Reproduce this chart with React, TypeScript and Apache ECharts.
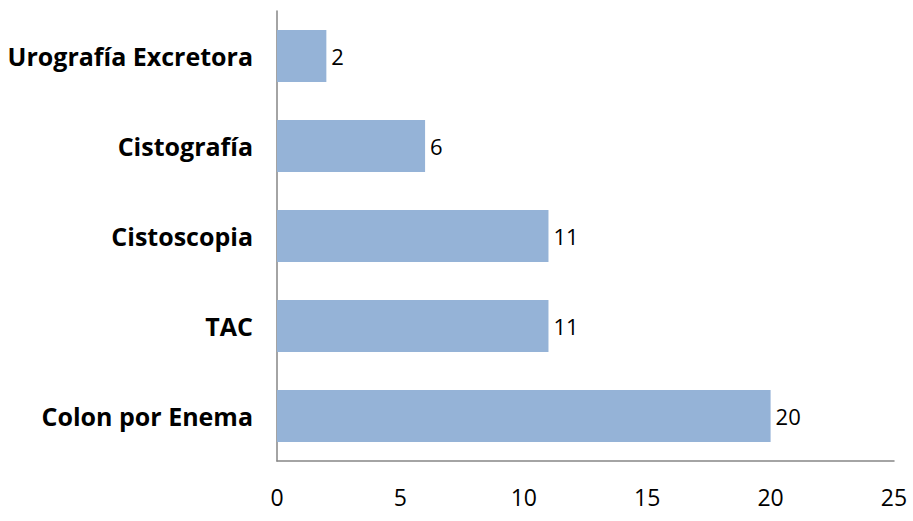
import React, { useEffect, useRef } from "react";
import * as echarts from "echarts";

const categories = ["Colon por Enema", "TAC", "Cistoscopia", "Cistografía", "Urografía Excretora"];
const values = [20, 11, 11, 6, 2];
const xTicks = [0, 5, 10, 15, 20, 25];

const FONT = "'Open Sans', 'Noto Sans', sans-serif";

export default function App() {
  const ref = useRef<HTMLDivElement>(null);
  useEffect(() => {
    const chart = echarts.init(ref.current!, null, { renderer: "svg" });
    chart.setOption({
      animation: false,
      grid: { left: 277, right: 19, top: 11, bottom: 60, containLabel: false, outerBoundsMode: "none" },
      xAxis: {
        type: "value",
        min: xTicks[0],
        max: xTicks[xTicks.length - 1],
        interval: 5,
        splitLine: { show: false },
        axisLine: { show: true, lineStyle: { color: "#868686", width: 1.5 } },
        axisTick: { show: false },
        axisLabel: {
          margin: 24,
          fontFamily: FONT,
          fontSize: 23,
          color: "#000",
        },
      },
      yAxis: {
        type: "category",
        data: categories,
        axisLine: { show: true, lineStyle: { color: "#868686", width: 1.5 } },
        axisTick: { show: false },
        axisLabel: {
          margin: 24,
          fontFamily: FONT,
          fontWeight: "bold",
          fontSize: 25,
          color: "#000",
        },
      },
      series: [
        {
          type: "bar",
          data: values,
          barCategoryGap: "42%",
          itemStyle: { color: "#95B3D7" },
          label: {
            show: true,
            position: "right",
            distance: 5,
            fontFamily: FONT,
            fontSize: 22,
            color: "#000",
          },
        },
      ],
    });
    return () => chart.dispose();
  }, []);
  return <div ref={ref} style={{ width: 913, height: 521, position: "absolute", left: 0, top: 0 }} />;
}
